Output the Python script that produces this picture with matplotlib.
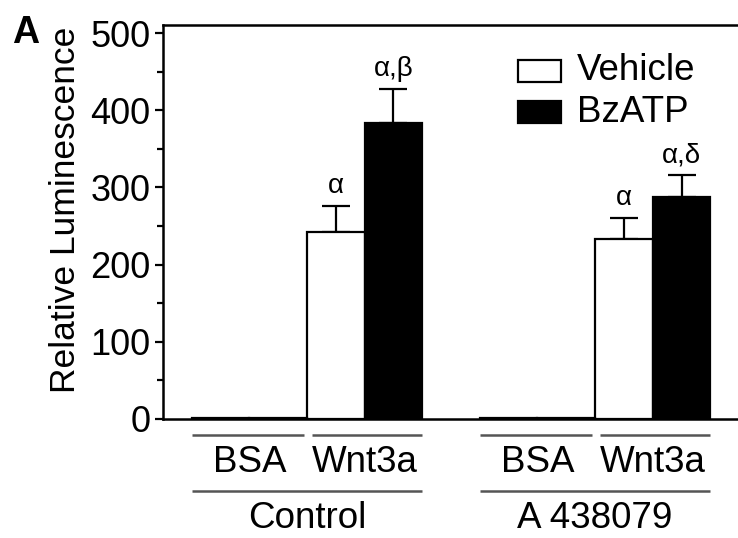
import matplotlib
matplotlib.use("Agg")
import matplotlib.pyplot as plt
import matplotlib.transforms as mtransforms
from matplotlib.patches import Rectangle
import numpy as np

plt.rcParams['font.family'] = ['Liberation Sans', 'DejaVu Sans']

# Data
groups = ["Control", "A 438079"]
subgroups = ["BSA", "Wnt3a"]
series = ["Vehicle", "BzATP"]
vehicle_vals = [1, 242, 1, 233]
vehicle_err = [0, 34, 0, 27]
bzatp_vals = [1.5, 383, 1.5, 287]
bzatp_err = [0, 44, 0, 29]
vehicle_marks = ["", "α", "", "α"]
bzatp_marks = ["", "α,β", "", "α,δ"]

W, H = 738, 538
fig = plt.figure(figsize=(W / 100, H / 100), dpi=100)
ax = fig.add_axes([163 / W, 1 - 419 / H, (738 - 163) / W, (419 - 25) / H])

# bar positions: pairs (vehicle, bzatp) per subgroup, gap between groups
veh_x = np.array([0, 2, 5, 7]) + 0.5
bz_x = veh_x + 1

lw = 1.6
ax.bar(veh_x, vehicle_vals, width=1.0, color="white", edgecolor="black", linewidth=lw, zorder=2)
ax.bar(bz_x, bzatp_vals, width=1.0, color="black", edgecolor="black", linewidth=lw, zorder=2)

for xs, vals, errs in [(veh_x, vehicle_vals, vehicle_err), (bz_x, bzatp_vals, bzatp_err)]:
    for x, v, e in zip(xs, vals, errs):
        if e > 0:
            ax.errorbar([x], [v], yerr=[[0], [e]], fmt="none", ecolor="black",
                        elinewidth=lw, capsize=10, capthick=lw, zorder=1)

for xs, vals, errs, marks in [(veh_x, vehicle_vals, vehicle_err, vehicle_marks),
                              (bz_x, bzatp_vals, bzatp_err, bzatp_marks)]:
    for x, v, e, m in zip(xs, vals, errs, marks):
        if m:
            ax.annotate(m, (x, v + e), xytext=(0, 5), textcoords="offset points",
                        ha="center", va="bottom", fontsize=20)

ax.set_xlim(-0.5, 9.48)
ax.set_ylim(0, 510.4)
ax.set_yticks([0, 100, 200, 300, 400, 500])
ax.set_yticks(np.arange(50, 500, 100), minor=True)
ax.set_xticks([])
ax.tick_params(axis="y", which="major", length=6, width=1.6, labelsize=26, pad=3, direction="out")
ax.tick_params(axis="y", which="minor", length=4, width=1.6, direction="out")
for s in ["left", "top", "bottom"]:
    ax.spines[s].set_linewidth(1.8)
ax.spines["right"].set_visible(False)

# category lines and labels below axis
trans = mtransforms.blended_transform_factory(ax.transData, ax.transAxes)
gcol = "#555555"
fs = 26.5
y_sub_line = (419 - 435) / 394
y_sub_text = (419 - 462) / 394
y_grp_line = (419 - 491) / 394
y_grp_text = (419 - 519) / 394
for gi, g in enumerate(groups):
    base = gi * 5
    for si, sg in enumerate(subgroups):
        x0 = base + si * 2 + (0.09 if si == 1 else 0.0)
        x1 = base + si * 2 + (2.0 if si == 1 else 1.95)
        ax.plot([x0, x1], [y_sub_line, y_sub_line], transform=trans, color=gcol,
                lw=1.8, clip_on=False, solid_capstyle="butt")
        ax.text(base + si * 2 + 1, y_sub_text, sg, transform=trans, ha="center",
                va="center", fontsize=fs)
    ax.plot([base, base + 4], [y_grp_line, y_grp_line], transform=trans, color=gcol,
            lw=1.8, clip_on=False, solid_capstyle="butt")
    ax.text(base + 2, y_grp_text, g, transform=trans, ha="center", va="center", fontsize=fs)

# legend
for i, (lab, fc) in enumerate(zip(series, ["white", "black"])):
    ytop = 60 + i * 41
    rect = Rectangle((518 / W, 1 - (ytop + 22) / H), 43 / W, 22 / H, transform=fig.transFigure,
                     facecolor=fc, edgecolor="black", linewidth=1.6)
    fig.add_artist(rect)
    fig.text(577 / W, 1 - (ytop + 11) / H, lab, ha="left", va="center", fontsize=fs)

fig.text(66 / W, 1 - 210 / H, "Relative Luminescence", rotation=90, ha="center",
         va="center", fontsize=25.5)
fig.text(12 / W, 1 - 33 / H, "A", ha="left", va="center", fontsize=27, fontweight="bold")

fig.savefig("out.png", dpi=100)
